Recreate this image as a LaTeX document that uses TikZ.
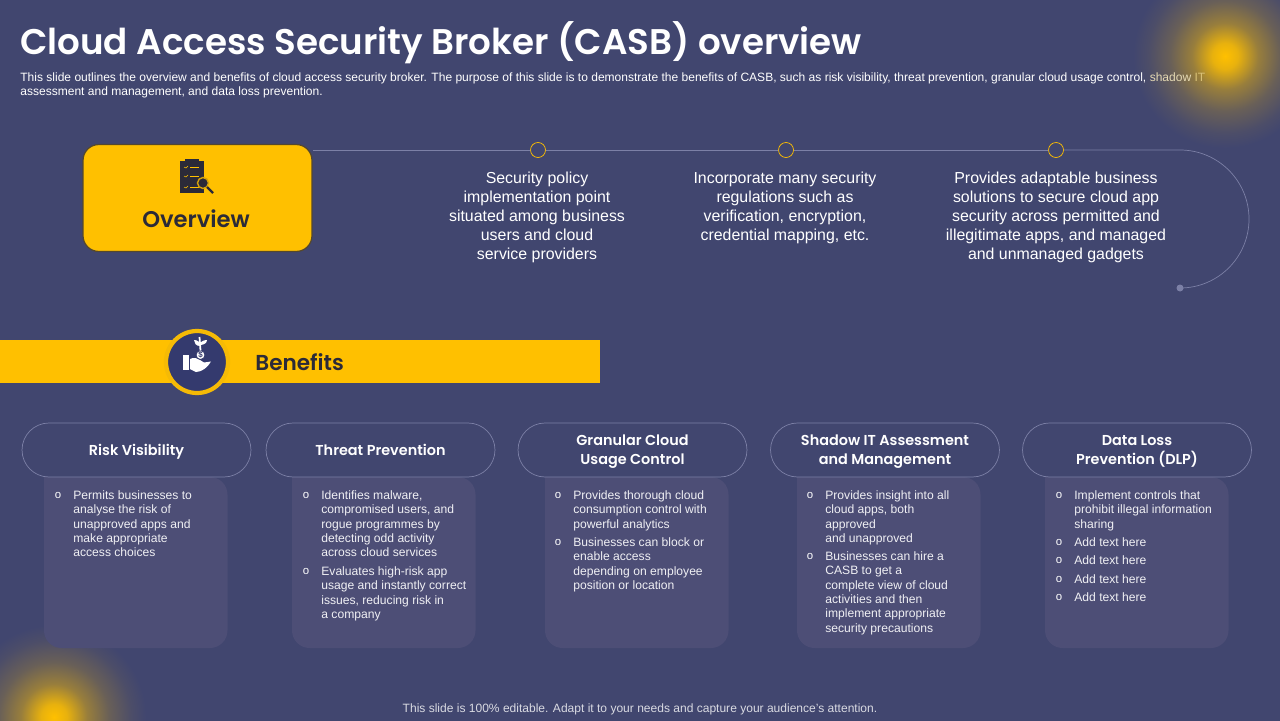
\documentclass[tikz,border=0pt]{standalone}
\usepackage{fontspec}
\setmainfont{Liberation Sans}
\newfontfamily\headfont{Poppins}[BoldFont={Poppins SemiBold}]
\usetikzlibrary{arrows.meta,calc}
\definecolor{slidebg}{HTML}{41466F}
\definecolor{panelbg}{HTML}{4D4E76}
\definecolor{gold}{HTML}{FFC000}
\definecolor{inkdark}{HTML}{2B2A38}
\definecolor{lineblue}{HTML}{7C80A6}
\definecolor{ringblue}{HTML}{343A6E}
\pgfdeclareradialshading{glowshade}{\pgfpoint{0bp}{0bp}}{color(0bp)=(gold); color(3.5bp)=(gold!88!slidebg); color(9bp)=(gold!46!slidebg); color(15bp)=(gold!21!slidebg); color(21bp)=(gold!6!slidebg); color(25bp)=(slidebg); color(50bp)=(slidebg)}
\tikzset{
  lead/.style={anchor=north,align=center,inner sep=0pt,text=white,font=\fontsize{9.05}{10.85}\selectfont},
  pillbox/.style={draw=lineblue,fill=slidebg,rounded corners=0.54cm,minimum width=4.58cm,minimum height=1.08cm,inner sep=0pt},
  pilltext/.style={inner sep=0pt,align=center,text=white,font=\headfont\bfseries\fontsize{8.2}{10.85}\selectfont},
  bodytext/.style={anchor=north west,align=left,inner sep=0pt,text=white!92!slidebg,font=\fontsize{6.9}{8.15}\selectfont},
  bulletmark/.style={inner sep=0pt,text=white,font=\fontsize{6.5}{7}\selectfont},
  golddot/.style={circle,draw=gold,fill=slidebg,minimum size=0.3cm,inner sep=0pt}
}
\begin{document}
\begin{tikzpicture}[x=0.02cm,y=-0.02cm,>=Stealth]
        \useasboundingbox (0,0) rectangle (1280,720);
        \fill[slidebg] (-3,-3) rectangle (1283,723);

        % glows in two corners
        \begin{scope}
        \clip (-3,-3) rectangle (1283,723);
        \path[shading=glowshade] (1225,56) circle[radius=92];
        \path[shading=glowshade] (54,717) circle[radius=92];
        \end{scope}

        \node[anchor=west,inner sep=0pt,text=white,font=\headfont\bfseries\fontsize{20.3}{25}\selectfont] (title) at (20,43) {Cloud Access Security Broker (CASB) overview};
        \node[bodytext,text=white,font=\fontsize{6.85}{8}\selectfont] (intro) at (20,72) {This slide outlines the overview and benefits of cloud access security broker. The purpose of this slide is to demonstrate the benefits of CASB,  such as risk visibility, threat prevention, granular cloud usage control, \textcolor{white!78!gold!90!black}{shadow} \textcolor{white!55!gold!85!black}{IT}\\assessment and management, and data loss prevention.};

        % overview row
        \node[golddot] (dotone) at (538,150) {};
        \node[golddot] (dottwo) at (786,150) {};
        \node[golddot] (dotthree) at (1056,150) {};
        \coordinate (curvestart) at (1180,150);
        \node[circle,fill=lineblue,minimum size=0.14cm,inner sep=0pt] (curveend) at (1180,288) {};
        \node[draw=inkdark!80!gold,line width=0.7pt,fill=gold,rounded corners=9pt,minimum width=4.58cm,minimum height=2.14cm,inner sep=0pt] (overviewbox) at (197.5,198) {};
        \draw[lineblue] (overviewbox.north east |- dotone) -- (dotone);
        \draw[lineblue] (dotone) -- (dottwo);
        \draw[lineblue] (dottwo) -- (dotthree);
        \draw[lineblue] (dotthree) -- (curvestart) arc[start angle=-90,end angle=90,radius=69] -- (curveend);
        \node[inner sep=0pt,text=inkdark,font=\headfont\bfseries\fontsize{12.9}{15}\selectfont] (overviewlabel) at (196,218.5) {Overview};

        % clipboard icon
        \fill[inkdark] (180,161) rectangle (204,193);
        \fill[inkdark] (185,159) rectangle (199,163);
        \foreach \y in {167,176,187} {
            \draw[gold,line width=0.3pt] (184,\y) -- (186,\y+1) -- (188,\y-1);
            \draw[gold,line width=0.3pt] (190,\y) -- (199,\y);
        }
        \draw[gold!80!inkdark,fill=inkdark,line width=0.8pt] (203,183) circle[radius=5.5];
        \draw[inkdark,line width=1.3pt] (207,187) -- (213,193);

        \node[lead] (leadone) at (537,171.5) {Security policy\\implementation point\\situated among business\\users and cloud\\service providers};
        \node[lead] (leadtwo) at (785,171.5) {Incorporate many security\\regulations such as\\verification, encryption,\\credential mapping, etc.};
        \node[lead] (leadthree) at (1056,171.5) {Provides adaptable business\\solutions to secure cloud app\\security across permitted and\\illegitimate apps, and managed\\and unmanaged gadgets};

        % benefits banner
        \fill[gold] (0,340) rectangle (600,383);
        \node[circle,draw=gold!95!slidebg,fill=ringblue,line width=2.4pt,minimum size=1.24cm,inner sep=0pt] (benefitsring) at (197,362) {};
        \node[anchor=west,inner sep=0pt,text=inkdark,font=\headfont\bfseries\fontsize{12.3}{15}\selectfont] (benefitslabel) at (255,362) {Benefits};

        % hand and plant icon
        \fill[white] (183,355) rectangle (188.5,370);
        \fill[white] (190,359) .. controls (194,357) and (197,358) .. (200,360) -- (204,362.5) -- (211,361.5) .. controls (208,367) and (202,372) .. (196,372) -- (190,369) -- cycle;
        \draw[ringblue,line width=0.5pt,fill=white] (200.5,355) circle[radius=4.5];
        \node[inner sep=0pt,text=ringblue,font=\bfseries\fontsize{4.5}{5}\selectfont] (coinsign) at (200.5,355) {\$};
        \draw[white,line width=1pt] (200.5,350.5) -- (199.5,337);
        \fill[white] (200,346) .. controls (196,346) and (194,343) .. (194,340) .. controls (198,340) and (200,342) .. (200,346) -- cycle;
        \fill[white] (200,345) .. controls (204,345) and (207,343) .. (207,340) .. controls (203,340) and (200,342) .. (200,345) -- cycle;

        % panels under the pills
        \foreach \x in {44,292,545,797,1045} {
            \fill[panelbg] (\x,477) [rounded corners=10pt] -- (\x,648) -- (\x+183.5,648) -- (\x+183.5,477) [sharp corners] -- cycle;
        }

        \node[pillbox] (pillrisk) at (136.5,450) {};
        \node[pillbox] (pillthreat) at (380.5,450) {};
        \node[pillbox] (pillgranular) at (632.5,450) {};
        \node[pillbox] (pillshadow) at (885,450) {};
        \node[pillbox] (pillloss) at (1137,450) {};

        \node[pilltext] (labelrisk) at (136.5,452) {Risk  Visibility};
        \node[pilltext] (labelthreat) at (380.5,450) {Threat Prevention};
        \node[pilltext] (labelgranular) at (632.5,451.5) {Granular Cloud\\Usage Control};
        \node[pilltext] (labelshadow) at (885,451.5) {Shadow IT Assessment\\and Management};
        \node[pilltext] (labelloss) at (1137,451) {Data Loss\\Prevention (DLP)};

        % bullets
        \foreach \x/\y [count=\i] in {58/495, 306/495, 306/571, 558/495, 558/542, 810/495, 810/556, 1059/495, 1059/542, 1059/560, 1059/579, 1059/597} {
            \node[bulletmark] (bullet\i) at (\x,\y) {o};
        }

        \node[bodytext] (riskone) at (73,490.5) {Permits businesses to\\analyse the risk of\\unapproved apps and\\make appropriate\\access choices};

        \node[bodytext] (threatone) at (321,490.5) {Identifies malware,\\compromised users, and\\rogue programmes by\\detecting odd activity\\across cloud services};
        \node[bodytext] (threattwo) at (321,566.5) {Evaluates high-risk app\\usage and instantly correct\\issues, reducing risk in\\a company};

        \node[bodytext] (granularone) at (573,490.5) {Provides thorough cloud\\consumption control with\\powerful analytics};
        \node[bodytext] (granulartwo) at (573,537.5) {Businesses can block or\\enable access\\depending on employee\\position or location};

        \node[bodytext] (shadowone) at (825,490.5) {Provides insight into all\\cloud apps, both\\approved\\and unapproved};
        \node[bodytext] (shadowtwo) at (825,551.5) {Businesses can hire a\\CASB to get a\\complete view of cloud\\activities and then\\implement appropriate\\security precautions};

        \node[bodytext] (lossone) at (1074,490.5) {Implement controls that\\prohibit illegal information\\sharing};
        \node[bodytext] (losstwo) at (1074,537.5) {Add text here};
        \node[bodytext] (lossthree) at (1074,555.5) {Add text here};
        \node[bodytext] (lossfour) at (1074,574.5) {Add text here};
        \node[bodytext] (lossfive) at (1074,592.5) {Add text here};

        \node[inner sep=0pt,text=white!80!slidebg,font=\fontsize{6.85}{8}\selectfont] (footer) at (640,709) {This slide is 100\% editable. Adapt it to your needs and capture your audience's attention.};
        \end{tikzpicture}
\end{document}
